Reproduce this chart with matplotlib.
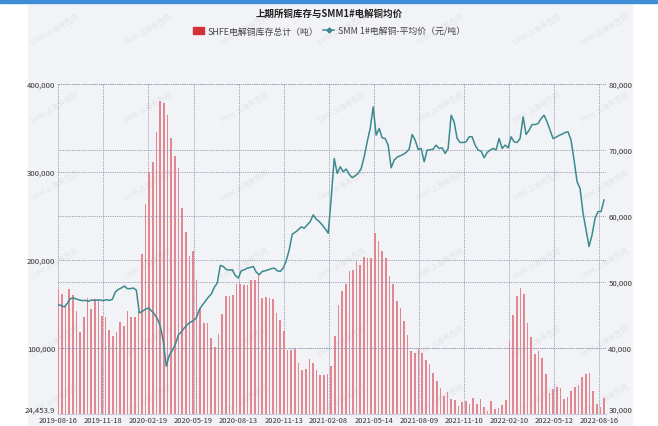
import numpy as np
import matplotlib
matplotlib.use("Agg")
import matplotlib.pyplot as plt
from matplotlib.patches import Rectangle, Patch
from matplotlib.lines import Line2D

plt.rcParams['font.family'] = ['Noto Sans CJK SC', 'DejaVu Sans']

# SHFE weekly copper stock (t)
stock = [167200, 161100, 149000, 166400, 159600, 142200, 118000, 134700, 156200, 144500,
         155100, 154700, 136200, 135400, 120300, 113100, 118000, 129000, 124500, 141500,
         134700, 135400, 141500, 206500, 263200, 299400, 310800, 345500, 380300, 378000,
         364400, 338000, 318300, 304000, 259400, 231400, 204600, 209500, 176600, 145300,
         128300, 127900, 111200, 100700, 115000, 137700, 158500, 158500, 160400, 172800,
         172500, 171000, 171000, 177000, 177000, 184900, 156600, 158100, 156600, 155800,
         139600, 130900, 118800, 96900, 96900, 98000, 82900, 74200, 75300, 86700,
         82900, 74200, 68500, 68500, 69700, 79100, 113100, 148300, 164100, 172500,
         186800, 188700, 198200, 193600, 202700, 201900, 201900, 229900, 221600, 209500,
         201900, 181200, 172500, 153600, 145300, 130100, 114300, 96100, 93900, 98000,
         93900, 85500, 81000, 71600, 62100, 54600, 45100, 50000, 41300, 40200,
         33800, 38300, 38700, 35700, 42100, 35700, 41300, 32600, 28100, 38700,
         30000, 31100, 34900, 40200, 107500, 136600, 158500, 167900, 161100, 128300,
         112000, 93100, 96100, 88600, 70400, 48900, 52700, 55300, 54600, 41300,
         44000, 50800, 55300, 57600, 66600, 70400, 71600, 50800, 36400, 32600,
         42500]

# SMM 1# copper average price (yuan/t)
price = [46570, 46420, 46220, 46770, 47480, 47580, 47420, 47270, 47170, 47220,
         47070, 47270, 47220, 47270, 47270, 47170, 47320, 47220, 47370, 48480,
         48880, 49090, 49390, 48990, 48990, 49090, 48780, 45310, 45560, 45860,
         46060, 45660, 45160, 44450, 43300, 41030, 37250, 38920, 39620, 40530,
         41940, 42440, 43040, 43550, 43900, 44150, 44550, 45810, 46470, 47070,
         47680, 48180, 49190, 49840, 52510, 52360, 51900, 51800, 51850, 51000,
         50600, 51700, 51850, 52110, 52210, 52360, 51500, 51100, 51600, 51700,
         51850, 52010, 52110, 51700, 51600, 52110, 53210, 54880, 57240, 57540,
         57900, 58350, 58150, 58650, 59160, 60160, 59510, 59160, 58650, 58050,
         57390, 62680, 68720, 66460, 67460, 66710, 67110, 66310, 65800, 66100,
         66460, 67210, 68970, 71240, 73250, 76530, 72250, 73250, 71840, 71740,
         70740, 67310, 68470, 68920, 69120, 69330, 69630, 70130, 72350, 71490,
         70080, 70230, 68220, 69980, 70030, 70130, 70740, 70230, 70330, 69480,
         70230, 75270, 74260, 71740, 71140, 71140, 71240, 72000, 72000, 70740,
         69980, 69830, 68820, 69630, 69980, 70230, 70030, 71740, 70230, 70740,
         70330, 72000, 71240, 71140, 71740, 75020, 72350, 73000, 73860, 73860,
         74010, 74760, 75270, 74260, 73000, 71740, 71940, 72200, 72400, 72650,
         72750, 71490, 68470, 65200, 64190, 60410, 57900, 55380, 57140, 59660,
         60670, 60670, 62430]

date_labels = ['2019-08-16', '2019-11-18', '2020-02-19', '2020-05-19', '2020-08-13',
               '2020-11-13', '2021-02-08', '2021-05-14', '2021-08-09', '2021-11-10',
               '2022-02-10', '2022-05-12', '2022-08-16']
left_ticks = [24453.9, 100000, 200000, 300000, 400000]
left_labels = ['24,453.9', '100,000', '200,000', '300,000', '400,000']
right_ticks = [30000, 40000, 50000, 60000, 70000, 80000]

grid_col = '#9898b0'
bar_col = '#e2868f'
line_col = '#3b8a90'
panel = '#f2f3f6'

fig = plt.figure(figsize=(6.58, 4.27), dpi=100)
fig.patches.append(Rectangle((28 / 658, 0), 604 / 658, 1 - 6 / 427,
                             transform=fig.transFigure, color=panel, zorder=-10))
fig.patches.append(Rectangle((0, 1 - 4 / 427), 1, 4 / 427,
                             transform=fig.transFigure, color='#3d8ed8', zorder=-9))

# faint watermark
for wy in [30, 108, 186, 264, 342, 400]:
    for wx in [55, 148, 245, 342, 440, 537, 605]:
        fig.text(wx / 658, 1 - wy / 427, 'SMM 上海有色网', fontsize=5.2, color='#e3e4e9',
                 rotation=30, ha='center', va='center', zorder=-5)

ax = fig.add_axes([58 / 658, 1 - 415 / 427, 547.5 / 658, 330 / 427])
ax.set_facecolor('none')
n = len(stock)
xb = np.arange(n)
ax.bar(xb, stock, width=0.45, color=bar_col, zorder=2)
ax.set_ylim(24453.9, 400000)
ax.set_xlim(-0.1, n - 0.6)

step = (n - 1) * 45.08 / 546
ax.set_xticks([k * step for k in range(len(date_labels))])
ax.set_xticklabels(date_labels)
ax.set_yticks(left_ticks)
ax.set_yticklabels(left_labels)

ax2 = ax.twinx()
xl = np.linspace(0, n - 1, len(price))
ax2.plot(xl, price, color=line_col, lw=1.1, zorder=3)
ax2.set_ylim(30000, 80000)
ax2.set_yticks(right_ticks)
ax2.set_yticklabels([f'{v:,}' for v in right_ticks])

for a in (ax, ax2):
    for s in a.spines.values():
        s.set_visible(False)
    a.tick_params(length=0, labelsize=5.6, colors='#333333', pad=2)
ax.tick_params(axis='x', pad=1.5, labelsize=5.4)
ax.spines['bottom'].set_visible(True)
ax.spines['bottom'].set_color('#c9c9e0')
ax.spines['bottom'].set_linewidth(0.8)
# lift the two bottom value labels clear of the date labels
ax.get_yticklabels()[0].set_verticalalignment('bottom')
ax2.get_yticklabels()[0].set_verticalalignment('bottom')

ax.grid(True, axis='both', color=grid_col, ls=(0, (1.5, 1.2)), lw=0.6)
ax2.grid(True, axis='y', color=grid_col, ls=(0, (1.5, 1.2)), lw=0.6)
ax2.axvline(n - 0.6, color=grid_col, ls=(0, (1.5, 1.2)), lw=0.6)

fig.text(0.5, 1 - 14 / 427, '上期所铜库存与SMM1#电解铜均价', ha='center', va='center',
         fontsize=6.8, fontweight='bold', color='#222222')
handles = [Patch(color='#d3313a'),
           Line2D([0], [0], color=line_col, lw=1.1, marker='D', markersize=2.5)]
fig.legend(handles, ['SHFE电解铜库存总计（吨）', 'SMM 1#电解铜-平均价（元/吨）'],
           loc='center', bbox_to_anchor=(0.5, 1 - 32 / 427), ncol=2, frameon=False,
           fontsize=6.4, handlelength=1.2, handleheight=0.9, columnspacing=0.6,
           handletextpad=0.4, labelcolor='#444444')

fig.savefig('out.png', dpi=100)
